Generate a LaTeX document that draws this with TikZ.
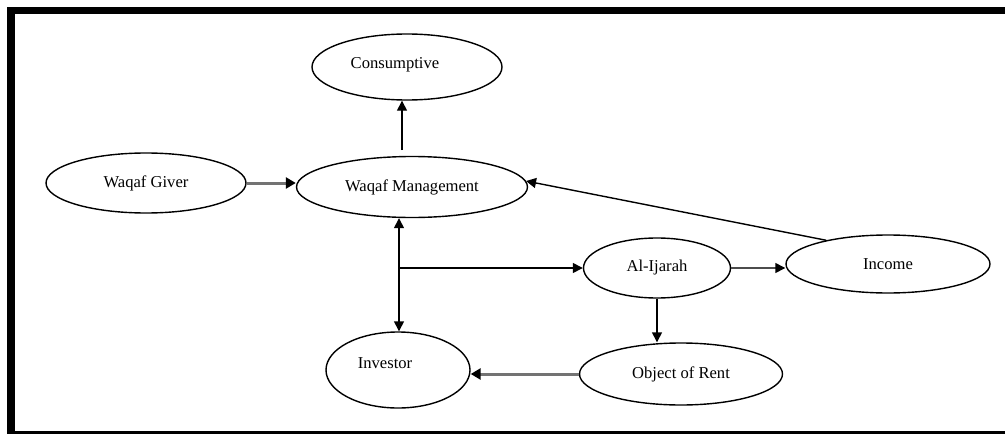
\documentclass[tikz,border=0pt]{standalone}
\usepackage{fontspec}
\setmainfont{Liberation Serif}
\usetikzlibrary{shapes.geometric,arrows.meta}
\begin{document}
\begin{tikzpicture}[x=1pt,y=-1pt,
  oval/.style={draw=black,line width=1.4pt,ellipse,inner sep=0pt,font=\fontsize{16.6}{19}\selectfont},
  lbl/.style={inner sep=0pt,font=\fontsize{16.6}{19}\selectfont},
  arr/.style={draw=black,line width=1.4pt,-{Triangle[length=10pt,width=10pt]}},
  greyarr/.style={draw=black!55,line width=3pt,-{Triangle[length=10pt,width=11pt,color=black]}},
  darr/.style={draw=black!70,line width=1.4pt,-{Triangle[length=10pt,width=10pt,color=black]}},
  both/.style={draw=black,line width=1.4pt,{Triangle[length=10pt,width=10pt]}-{Triangle[length=10pt,width=10pt]}}]
\useasboundingbox (0,0) rectangle (1005,434);
% frame
\fill[black] (7,7) rectangle (1005,14);
\fill[black] (7,7) rectangle (15,433.5);
\fill[black] (7,431) rectangle (1005,433.5);
% nodes
\node[oval,minimum width=190pt,minimum height=66pt] (cons) at (407,67) {};
\node[lbl] (conslbl) at (395,65) {Consumptive};
\node[oval,minimum width=200pt,minimum height=60pt] (giver) at (146,183) {Waqaf Giver};
\node[oval,minimum width=231pt,minimum height=61pt] (mgmt) at (412,187) {Waqaf Management};
\node[oval,minimum width=204pt,minimum height=58pt] (income) at (888,264) {Income};
\node[oval,minimum width=147pt,minimum height=60pt] (ijarah) at (657,268) {Al-Ijarah};
\node[oval,minimum width=144pt,minimum height=76pt] (inv) at (398,370) {};
\node[lbl] (invlbl) at (385,363) {Investor};
\node[oval,minimum width=203pt,minimum height=62pt] (obj) at (681,374) {Object of Rent};
% connectors
\coordinate (c1) at (402,150);
\coordinate (j) at (399,268);
\draw[greyarr] (giver.east) -- (giver.east -| mgmt.west);
\draw[arr] (c1) -- (c1 |- cons.south);
\draw[arr] (income.159) -- (mgmt.3);
\draw[arr] (j) -- (ijarah.west);
\draw[both] (mgmt.south -| j) -- (j |- inv.north);
\draw[darr] (ijarah.east) -- (ijarah.east -| income.west);
\draw[arr] (ijarah.south) -- (ijarah.south |- obj.north);
\draw[greyarr] (obj.west) -- (obj.west -| inv.east);
\end{tikzpicture}
\end{document}
